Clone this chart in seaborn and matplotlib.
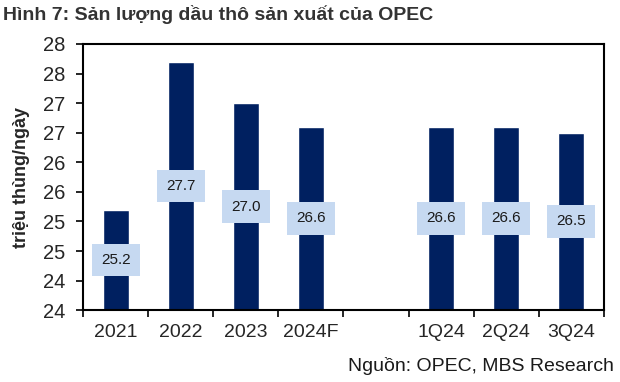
import numpy as np
import pandas as pd
import seaborn as sns
import matplotlib.pyplot as plt
from matplotlib.ticker import FuncFormatter, MultipleLocator

# data (million barrels/day)
categories = ["2021", "2022", "2023", "2024F", " ", "1Q24", "2Q24", "3Q24"]
periods = ["2021", "2022", "2023", "2024F", "1Q24", "2Q24", "3Q24"]
output = [25.2, 27.7, 27.0, 26.6, 26.6, 26.6, 26.5]

df = pd.DataFrame({"period": periods, "output": output})

sns.set_style("white")
plt.rcParams["font.family"] = ["Liberation Sans", "DejaVu Sans"]

fig = plt.figure(figsize=(6.2, 3.82), dpi=100)
ax = fig.add_axes([0.134, 0.188, 0.840, 0.697])

sns.barplot(data=df, x="period", y="output", order=categories,
            color="#002060", width=0.4, errorbar=None, saturation=1, ax=ax)

ymin = 23.5
ax.set_ylim(ymin, 28.0)
ax.set_xlim(-0.5, len(categories) - 0.5)

# labels sit at the middle of each bar, Excel style
for i, cat in enumerate(categories):
    if cat not in periods:
        continue
    v = output[periods.index(cat)]
    ax.text(i, (ymin + v) / 2, f"{v:.1f}", ha="center", va="center",
            fontsize=11, color="#1a1a1a",
            bbox=dict(boxstyle="square,pad=0.6", fc="#c6d9f1", ec="none"))

# y ticks every 0.5, rounded half-up like the source
ax.yaxis.set_major_locator(MultipleLocator(0.5))
ax.yaxis.set_major_formatter(FuncFormatter(lambda v, p: str(int(np.floor(v + 0.5)))))
ax.tick_params(axis="y", direction="out", length=5, width=1.2, labelsize=14.5,
               left=True, color="black", pad=8)

# x: labels at centres, tick marks between categories
ax.set_xticks(range(len(categories)))
ax.set_xticklabels(categories)
ax.set_xticks(np.arange(-0.5, len(categories)), minor=True)
ax.tick_params(axis="x", which="major", length=0, labelsize=14, pad=10)
ax.tick_params(axis="x", which="minor", direction="out", length=5, width=1.2,
               bottom=True, color="black")

for s in ax.spines.values():
    s.set_visible(True)
    s.set_color("black")
    s.set_linewidth(1.5)

ax.set_xlabel("")
ax.set_ylabel("triệu thùng/ngày", fontsize=13, fontweight="bold", labelpad=9)

fig.text(0.005, 0.962, "Hình 7: Sản lượng dầu thô sản xuất của OPEC",
         fontsize=14, fontweight="bold", color="#333333", va="center", ha="left")
fig.text(0.99, 0.042, "Nguồn: OPEC, MBS Research", fontsize=14,
         color="#1a1a1a", ha="right", va="center")

fig.savefig("out.png", dpi=100)
